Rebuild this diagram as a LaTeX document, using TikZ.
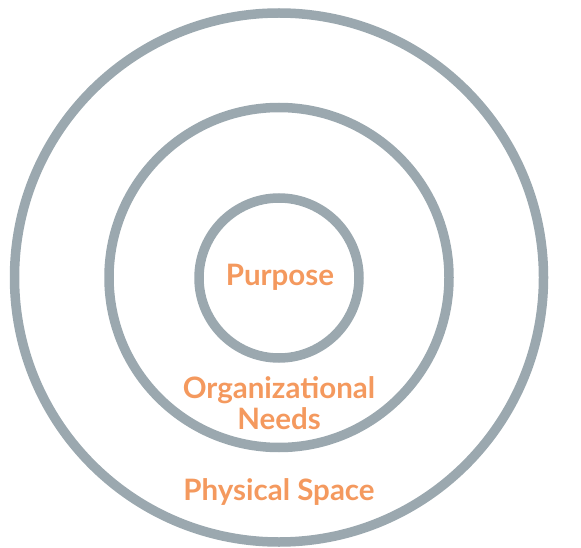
\documentclass[tikz,border=0pt]{standalone}
\usepackage{fontspec}
\setmainfont{Lato}
\usepackage{xcolor}
\usetikzlibrary{positioning}
\definecolor{ringgray}{HTML}{9BA8AF}
\definecolor{labelorange}{HTML}{F4995E}
\tikzset{
  ring/.style={draw=ringgray, line width=9.5pt},
  ringlabel/.style={text=labelorange, font=\fontsize{29.5}{31}\selectfont\bfseries, align=center, inner sep=0pt}
}
\begin{document}
\begin{tikzpicture}[x=1pt,y=-1pt]
\useasboundingbox (0,0) rectangle (581,548);

% Rings
\draw[ring] (279,277.5) circle (264.5);
\draw[ring] (279,277.5) circle (170);
\draw[ring] (279,278) circle (80);

% Labels
\node[ringlabel] (purpose) at (280,277) {Purpose};
\node[ringlabel] (needs) at (279,403) {Organizational\\Needs};
\node[ringlabel] (space) at (279,492) {Physical Space};

\end{tikzpicture}
\end{document}
